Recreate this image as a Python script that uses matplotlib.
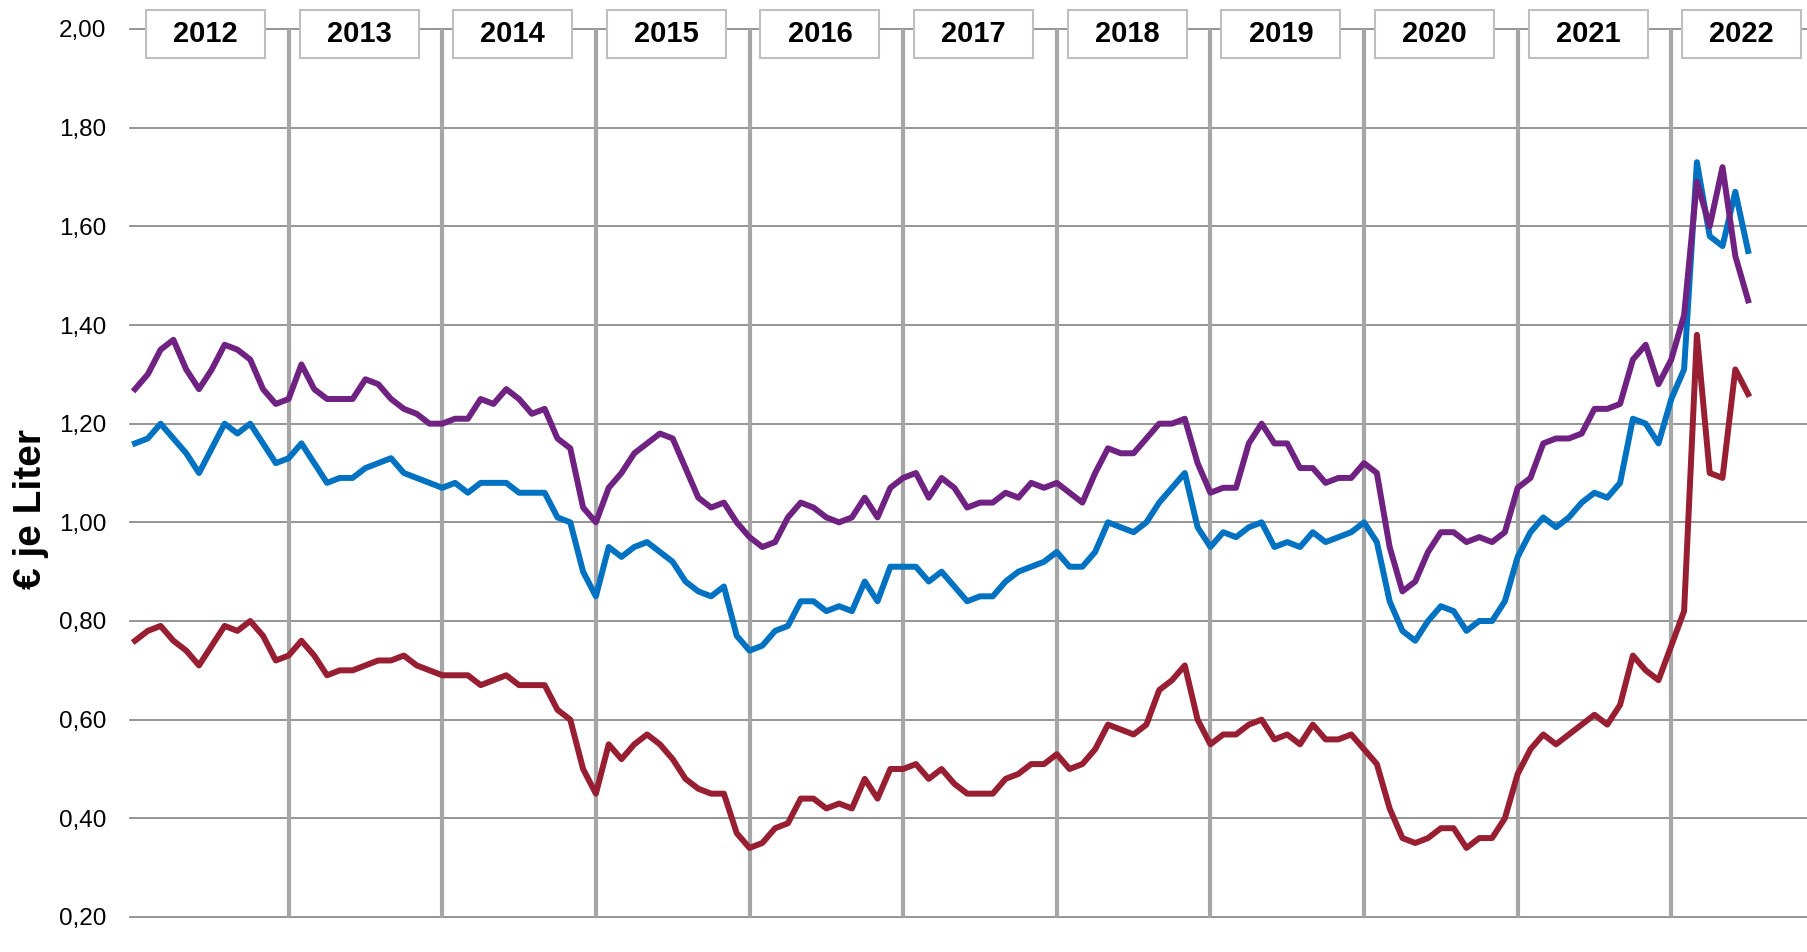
import numpy as np
import matplotlib.pyplot as plt
from matplotlib.patches import Rectangle

plt.rcParams['font.family'] = ['Liberation Sans', 'DejaVu Sans']

# monthly values, Jan 2012 .. Jul 2022 (EUR per litre)
years = ['2012', '2013', '2014', '2015', '2016', '2017', '2018', '2019', '2020', '2021', '2022']

purple = [1.27, 1.30, 1.35, 1.37, 1.31, 1.27, 1.31, 1.36, 1.35, 1.33, 1.27, 1.24,
          1.25, 1.32, 1.27, 1.25, 1.25, 1.25, 1.29, 1.28, 1.25, 1.23, 1.22, 1.20,
          1.20, 1.21, 1.21, 1.25, 1.24, 1.27, 1.25, 1.22, 1.23, 1.17, 1.15, 1.03,
          1.00, 1.07, 1.10, 1.14, 1.16, 1.18, 1.17, 1.11, 1.05, 1.03, 1.04, 1.00,
          0.97, 0.95, 0.96, 1.01, 1.04, 1.03, 1.01, 1.00, 1.01, 1.05, 1.01, 1.07,
          1.09, 1.10, 1.05, 1.09, 1.07, 1.03, 1.04, 1.04, 1.06, 1.05, 1.08, 1.07,
          1.08, 1.06, 1.04, 1.10, 1.15, 1.14, 1.14, 1.17, 1.20, 1.20, 1.21, 1.12,
          1.06, 1.07, 1.07, 1.16, 1.20, 1.16, 1.16, 1.11, 1.11, 1.08, 1.09, 1.09,
          1.12, 1.10, 0.95, 0.86, 0.88, 0.94, 0.98, 0.98, 0.96, 0.97, 0.96, 0.98,
          1.07, 1.09, 1.16, 1.17, 1.17, 1.18, 1.23, 1.23, 1.24, 1.33, 1.36, 1.28,
          1.33, 1.42, 1.69, 1.60, 1.72, 1.54, 1.45]

blue = [1.16, 1.17, 1.20, 1.17, 1.14, 1.10, 1.15, 1.20, 1.18, 1.20, 1.16, 1.12,
        1.13, 1.16, 1.12, 1.08, 1.09, 1.09, 1.11, 1.12, 1.13, 1.10, 1.09, 1.08,
        1.07, 1.08, 1.06, 1.08, 1.08, 1.08, 1.06, 1.06, 1.06, 1.01, 1.00, 0.90,
        0.85, 0.95, 0.93, 0.95, 0.96, 0.94, 0.92, 0.88, 0.86, 0.85, 0.87, 0.77,
        0.74, 0.75, 0.78, 0.79, 0.84, 0.84, 0.82, 0.83, 0.82, 0.88, 0.84, 0.91,
        0.91, 0.91, 0.88, 0.90, 0.87, 0.84, 0.85, 0.85, 0.88, 0.90, 0.91, 0.92,
        0.94, 0.91, 0.91, 0.94, 1.00, 0.99, 0.98, 1.00, 1.04, 1.07, 1.10, 0.99,
        0.95, 0.98, 0.97, 0.99, 1.00, 0.95, 0.96, 0.95, 0.98, 0.96, 0.97, 0.98,
        1.00, 0.96, 0.84, 0.78, 0.76, 0.80, 0.83, 0.82, 0.78, 0.80, 0.80, 0.84,
        0.93, 0.98, 1.01, 0.99, 1.01, 1.04, 1.06, 1.05, 1.08, 1.21, 1.20, 1.16,
        1.25, 1.31, 1.73, 1.58, 1.56, 1.67, 1.55]

red = [0.76, 0.78, 0.79, 0.76, 0.74, 0.71, 0.75, 0.79, 0.78, 0.80, 0.77, 0.72,
       0.73, 0.76, 0.73, 0.69, 0.70, 0.70, 0.71, 0.72, 0.72, 0.73, 0.71, 0.70,
       0.69, 0.69, 0.69, 0.67, 0.68, 0.69, 0.67, 0.67, 0.67, 0.62, 0.60, 0.50,
       0.45, 0.55, 0.52, 0.55, 0.57, 0.55, 0.52, 0.48, 0.46, 0.45, 0.45, 0.37,
       0.34, 0.35, 0.38, 0.39, 0.44, 0.44, 0.42, 0.43, 0.42, 0.48, 0.44, 0.50,
       0.50, 0.51, 0.48, 0.50, 0.47, 0.45, 0.45, 0.45, 0.48, 0.49, 0.51, 0.51,
       0.53, 0.50, 0.51, 0.54, 0.59, 0.58, 0.57, 0.59, 0.66, 0.68, 0.71, 0.60,
       0.55, 0.57, 0.57, 0.59, 0.60, 0.56, 0.57, 0.55, 0.59, 0.56, 0.56, 0.57,
       0.54, 0.51, 0.42, 0.36, 0.35, 0.36, 0.38, 0.38, 0.34, 0.36, 0.36, 0.40,
       0.49, 0.54, 0.57, 0.55, 0.57, 0.59, 0.61, 0.59, 0.63, 0.73, 0.70, 0.68,
       0.75, 0.82, 1.38, 1.10, 1.09, 1.31, 1.26]

y_ticks = [0.2, 0.4, 0.6, 0.8, 1.0, 1.2, 1.4, 1.6, 1.8, 2.0]
y_labels = ['0,20', '0,40', '0,60', '0,80', '1,00', '1,20', '1,40', '1,60', '1,80', '2,00']

W, H = 1807, 952
fig = plt.figure(figsize=(W / 100, H / 100), dpi=100)
ax = fig.add_axes([130 / W, 1 - 917 / H, 1 - 130 / W, (917 - 29) / H])

x = np.arange(len(purple))

# gridlines
for yv in y_ticks:
    ax.axhline(yv, color='#8c8c8c', lw=1.3, zorder=1, clip_on=False)
for i in range(1, len(years)):
    ax.axvline(i * 12, color='#a6a6a6', lw=3, zorder=2)

ax.plot(x, red, color='#981e32', lw=4.3, zorder=3)
ax.plot(x, blue, color='#0072c1', lw=4.3, zorder=4)
ax.plot(x, purple, color='#6f2282', lw=4.3, zorder=5)

ax.set_xlim(-0.39, 130.6)
ax.set_ylim(0.2, 2.0)
ax.set_xticks([])
ax.set_yticks(y_ticks)
ax.set_yticklabels(y_labels)
ax.tick_params(axis='y', length=0, pad=17, labelsize=17.5, labelcolor='black')
for s in ax.spines.values():
    s.set_visible(False)

# year boxes along the top
bw, bh = 9.3, 0.098
for i, yr in enumerate(years):
    cx = i * 12 + 5.5
    ax.add_patch(Rectangle((cx - bw / 2, 1.99 - bh / 2), bw, bh, facecolor='white',
                           edgecolor='#bfbfbf', lw=1.5, zorder=6, clip_on=False))
    ax.text(cx, 1.99, yr, ha='center', va='center', fontsize=21, fontweight='bold',
            zorder=7, clip_on=False)

fig.text(31 / W, 1 - 509 / H, '€ je Liter', rotation=90, fontsize=28, fontweight='bold',
         ha='center', va='center')

fig.savefig('out.png', dpi=100)
